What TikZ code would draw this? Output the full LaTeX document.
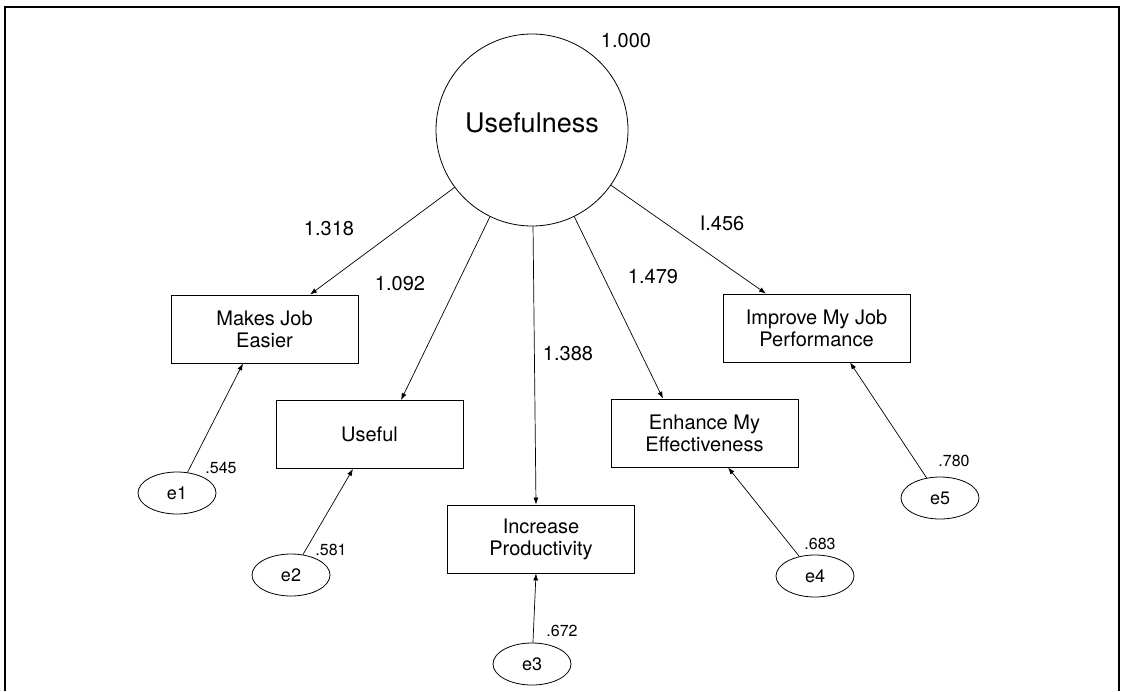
\documentclass[tikz,border=0pt]{standalone}
\usepackage{fontspec}
\setmainfont{TeX Gyre Heros}
\usetikzlibrary{arrows.meta,shapes.geometric}
\begin{document}
\begin{tikzpicture}[x=1pt,y=-1pt,
  box/.style={draw, line width=0.8pt, minimum width=187pt, minimum height=68pt,
    align=center, inner sep=0pt, font=\fontsize{20}{22}\selectfont},
  err/.style={draw, ellipse, line width=0.8pt, minimum width=78pt, minimum height=42pt,
    inner sep=0pt, font=\fontsize{18}{18}\selectfont},
  coef/.style={inner sep=0pt, font=\fontsize{20}{20}\selectfont},
  small/.style={inner sep=0pt, font=\fontsize{16}{16}\selectfont},
  link/.style={line width=0.7pt, -{Latex[length=7pt,width=5pt]}}
]
\useasboundingbox (0,0) rectangle (1121,691);
% frame
\draw[line width=1.6pt] (5,691) -- (5,7) -- (1119,7) -- (1119,691);

% latent factor
\node[draw, circle, minimum size=192pt, inner sep=0pt, line width=0.8pt] (U) at (532,130) {};
\node[inner sep=0pt, font=\fontsize{27}{27}\selectfont] (Ut) at (532,123) {Usefulness};
\node[coef] (var) at (626,41) {1.000};

% indicators
\node[box] (mje) at (264.5,329) {Makes Job\\Easier};
\node[box] (use) at (369.5,434.5) {Useful};
\node[box] (inc) at (541,539) {Increase\\Productivity};
\node[box] (enh) at (704.5,433) {Enhance My\\Effectiveness};
\node[box] (imp) at (816.5,328) {Improve My Job\\Performance};

% error terms
\node[err] (e1) at (177,493) {e1};
\node[err] (e2) at (291,575) {e2};
\node[err] (e3) at (532,664) {e3};
\node[err] (e4) at (815,576) {e4};
\node[err] (e5) at (940,498) {e5};

% arrow end points on the boxes
\coordinate (t1) at ([xshift=45.5pt]mje.north);
\coordinate (t2) at ([xshift=31.5pt]use.north);
\coordinate (t3) at ([xshift=-5pt]inc.north);
\coordinate (t4) at ([xshift=-41.5pt]enh.north);
\coordinate (t5) at ([xshift=-50.5pt]imp.north);
\coordinate (b1) at ([xshift=-21.5pt]mje.south);
\coordinate (b2) at ([xshift=-16.5pt]use.south);
\coordinate (b3) at ([xshift=-5pt]inc.south);
\coordinate (b4) at ([xshift=23.5pt]enh.south);
\coordinate (b5) at ([xshift=33.5pt]imp.south);

% loadings
\draw[link] (U) -- (t1);
\draw[link] (U) -- (t2);
\draw[link] (U) -- (t3);
\draw[link] (U) -- (t4);
\draw[link] (U) -- (t5);

% error paths
\draw[link] (e1) -- (b1);
\draw[link] (e2) -- (b2);
\draw[link] (e3) -- (b3);
\draw[link] (e4) -- (b4);
\draw[link] (e5) -- (b5);

% loading values
\node[coef] (l1) at (329,229) {1.318};
\node[coef] (l2) at (400,284) {1.092};
\node[coef] (l3) at (568,354) {1.388};
\node[coef] (l4) at (653,277) {1.479};
\node[coef] (l5) at (722,223) {I.456};

% error values
\node[small] (v1) at (221,468) {.545};
\node[small] (v2) at (331,550) {.581};
\node[small] (v3) at (562,631) {.672};
\node[small] (v4) at (820,544) {.683};
\node[small] (v5) at (954,461) {.780};
\end{tikzpicture}
\end{document}
